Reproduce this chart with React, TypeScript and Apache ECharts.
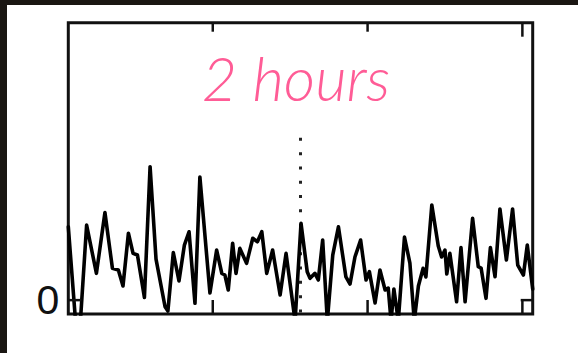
import { useEffect, useRef } from "react";
import * as echarts from "echarts";

// Trace sampled over a three-hour window (minutes from the start of the window)
const minutes = [
  0, 2.8, 4.7, 7.1, 10.9, 14.2, 17.1, 19.4, 21.2, 23.3, 25.1, 26.8, 29.5, 31.7, 34.0,
  37.5, 38.6, 40.7, 42.9, 45.0, 46.8, 49.1, 51.0, 54.9, 57.5, 59.5, 60.7, 62.0, 63.7,
  65.0, 66.5, 69.1, 71.5, 73.3, 75.0, 76.9, 79.2, 82.1, 84.4, 87.9, 90.2, 92.6, 93.7,
  95.6, 96.9, 98.6, 100.4, 102.5, 104.7, 107.6, 109.2, 111.1, 113.3, 115.4, 116.7,
  118.9, 120.8, 122.8, 124.0, 125.1, 126.2, 127.9, 130.3, 132.4, 134.1, 135.7, 137.5,
  138.6, 140.9, 143.4, 144.7, 146.0, 146.7, 147.9, 150.5, 152.2, 153.8, 156.7, 158.9,
  160.0, 161.9, 163.6, 165.4, 167.3, 169.8, 172.2, 174.2, 176.4, 177.9, 180.0,
];

const signal = [
  0.529, -0.15, -0.15, 0.541, 0.193, 0.632, 0.229, 0.217, 0.102, 0.482, 0.337, 0.325,
  0.019, 0.962, 0.296, -0.048, -0.079, 0.343, 0.138, 0.397, 0.493, -0.023, 0.888, 0.051,
  0.361, 0.193, 0.181, 0.073, 0.41, 0.193, 0.373, 0.265, 0.446, 0.421, 0.493, 0.193,
  0.361, 0.037, 0.337, -0.15, 0.554, 0.205, 0.157, 0.193, 0.145, 0.433, -0.15, 0.325,
  0.529, 0.167, 0.116, 0.311, 0.433, 0.145, 0.205, -0.021, 0.217, 0.073, 0.087, -0.15,
  0.08, -0.15, 0.455, 0.267, -0.15, 0.102, 0.229, 0.167, 0.686, 0.39, 0.311, 0.361,
  0.188, 0.337, -0.012, 0.379, -0.012, 0.59, 0.241, 0.231, 0.013, 0.379, 0.169, 0.657,
  0.289, 0.657, 0.253, 0.181, 0.397, 0.08,
];

// Axis layout values
const xRange = [0, 180];
const yRange = [-0.1, 2.0];
const tickMinutes = [56, 116, 176];
const yTickValues = [0];

// Dotted marker at the middle of the window
const markerMinute = 90;
const markerSpan = [1.17, -0.1];

const titleText = "2 hours";

export default function App() {
  const ref = useRef<HTMLDivElement>(null);

  useEffect(() => {
    if (!ref.current) return;
    const chart = echarts.init(ref.current, null, { renderer: "svg" });

    const traceData = minutes.map((m, i) => [m, signal[i]]);
    const markerData = markerSpan.map((v) => [markerMinute, v]);

    const ink = "#111";
    const tickStyle = { stroke: ink, lineWidth: 2.5 };
    const bottomTickLen = 14;
    const sideTickLen = 13;

    chart.setOption({
      animation: false,
      backgroundColor: "#ffffff",
      grid: {
        left: 68.3,
        right: 45.3,
        top: 22.7,
        bottom: 39,
        show: true,
        borderColor: ink,
        borderWidth: 3,
        backgroundColor: "transparent",
      },
      xAxis: {
        type: "value",
        min: xRange[0],
        max: xRange[1],
        axisLine: { show: false },
        splitLine: { show: false },
        axisTick: { show: false },
        axisLabel: { show: false },
      },
      yAxis: {
        type: "value",
        min: yRange[0],
        max: yRange[1],
        axisLine: { show: false },
        splitLine: { show: false },
        axisTick: { show: false },
        axisLabel: {
          show: true,
          customValues: yTickValues,
          formatter: (v: number) => String(Math.round(v)),
          margin: 9,
          color: ink,
          fontFamily: "Liberation Sans, Arial, sans-serif",
          fontSize: 41,
          padding: [0, 0, 5, 0],
        },
      },
      series: [
        {
          type: "line",
          name: "marker",
          data: markerData,
          showSymbol: false,
          clip: true,
          lineStyle: { color: "#222", width: 3, type: [3, 11.3] },
          z: 2,
        },
        {
          type: "line",
          name: "trace",
          data: traceData,
          showSymbol: false,
          clip: true,
          lineStyle: { color: "#000", width: 3.6, join: "round", cap: "round" },
          z: 3,
        },
        {
          // inward ticks on the top and bottom frame edges
          type: "custom",
          name: "xTicks",
          data: tickMinutes.map((m) => [m, 0]),
          renderItem: (params: any, api: any) => {
            const m = api.value(0);
            const bottom = api.coord([m, yRange[0]]);
            const top = api.coord([m, yRange[1]]);
            const topLen = params.dataIndex === tickMinutes.length - 1 ? 14 : 9;
            return {
              type: "group",
              children: [
                {
                  type: "line",
                  shape: { x1: bottom[0], y1: bottom[1], x2: bottom[0], y2: bottom[1] - bottomTickLen },
                  style: tickStyle,
                },
                {
                  type: "line",
                  shape: { x1: top[0], y1: top[1], x2: top[0], y2: top[1] + topLen },
                  style: tickStyle,
                },
              ],
            };
          },
          z: 4,
        },
        {
          // inward ticks on the left and right frame edges
          type: "custom",
          name: "yTicks",
          data: yTickValues.map((v) => [xRange[0], v]),
          renderItem: (_params: any, api: any) => {
            const v = api.value(1);
            const left = api.coord([xRange[0], v]);
            const right = api.coord([xRange[1], v]);
            return {
              type: "group",
              children: [
                {
                  type: "line",
                  shape: { x1: left[0], y1: left[1], x2: left[0] + sideTickLen, y2: left[1] },
                  style: tickStyle,
                },
                {
                  type: "line",
                  shape: { x1: right[0], y1: right[1], x2: right[0] - sideTickLen + 1, y2: right[1] },
                  style: tickStyle,
                },
              ],
            };
          },
          z: 4,
        },
      ],
      graphic: [
        {
          type: "rect",
          silent: true,
          shape: { x: 0, y: 0, width: 578, height: 5 },
          style: { fill: "#1a1612" },
        },
        {
          type: "rect",
          silent: true,
          shape: { x: 0, y: 0, width: 7, height: 353 },
          style: { fill: "#1a1612" },
        },
        {
          type: "text",
          silent: true,
          x: 296,
          y: 77,
          style: {
            text: titleText,
            fill: "#ff5c96",
            fontFamily: "Lato, 'Open Sans', sans-serif",
            fontStyle: "italic",
            fontWeight: 300,
            fontSize: 61,
            align: "center",
            verticalAlign: "middle",
          },
        },
      ],
    });

    return () => chart.dispose();
  }, []);

  return (
    <div
      ref={ref}
      style={{ position: "fixed", left: 0, top: 0, width: 578, height: 353 }}
    />
  );
}
